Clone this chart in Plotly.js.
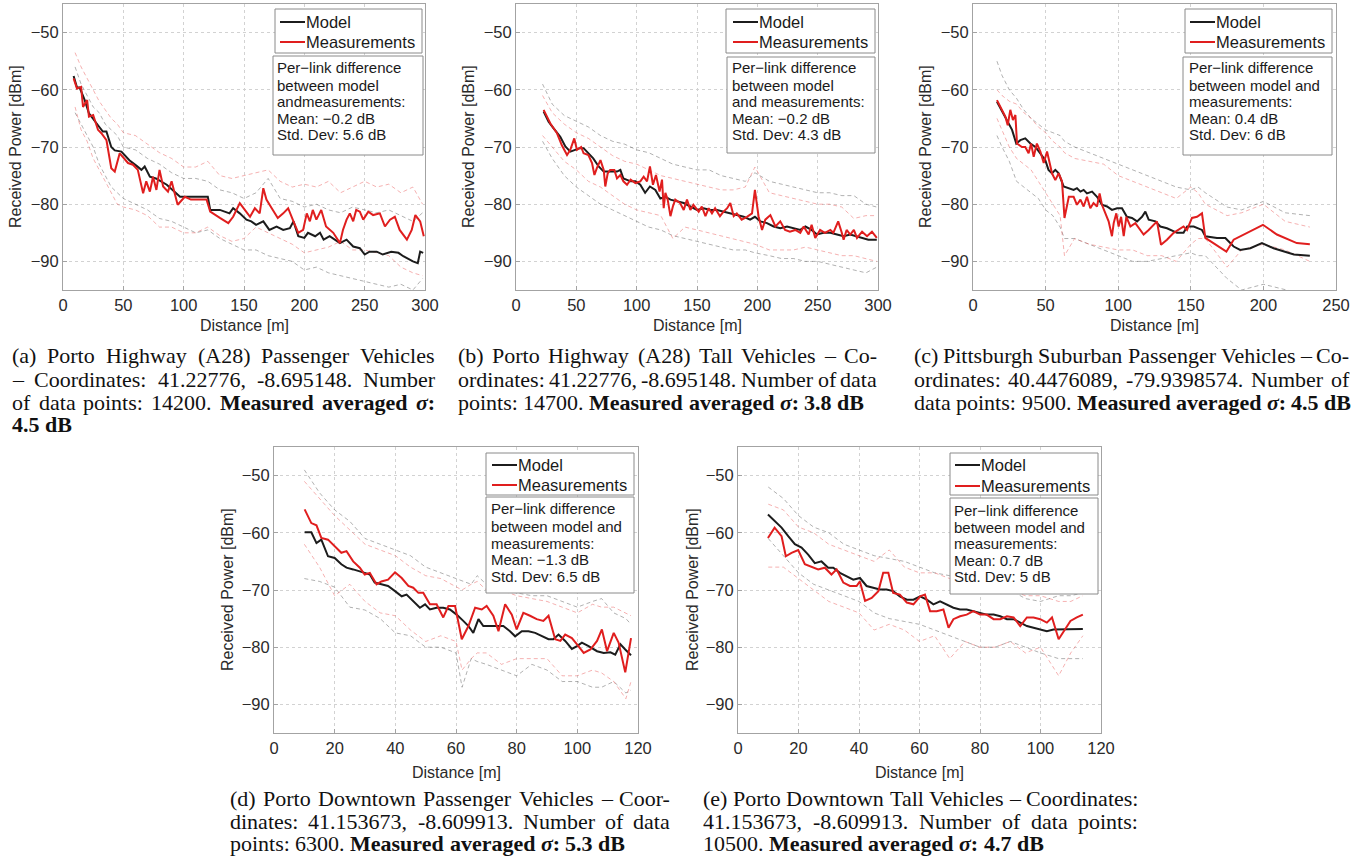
<!DOCTYPE html>
<html><head><meta charset="utf-8">
<script src="https://cdn.plot.ly/plotly-3.0.1.min.js"></script>
<style>html,body{margin:0;padding:0;background:#fff}#chart{width:1366px;height:858px}</style>
</head><body><div id="chart"></div>
<script>
// ---------------- DATA ----------------
// (a) Porto Highway Passenger
const aModelX=[8.8,11.6,13.8,18,21.5,25.4,29,33,36,40,42.9,48.4,55,61,65,67.7,72,77,86,97,102,106,113,120,122,130,138,141,146.5,152,156,160,166,171,177,182.5,188,191,195,200,203,209,213,216,221,229.5,235,240.5,246,250,254,260,265,272,278,282,290,294,296,298.5];
const aModelY=[-57.6,-59.6,-59.6,-61.8,-64.1,-65.3,-66.2,-67.3,-67.3,-70,-70.6,-70.8,-72.3,-73.3,-74,-73.4,-75.2,-75.5,-76.6,-78.7,-78.7,-78.7,-78.7,-78.7,-81,-81,-81.6,-80.7,-81.6,-82.7,-83,-83.6,-83,-84.5,-83.9,-84.5,-84.2,-83,-85.6,-85.9,-85,-85.6,-85,-86.2,-85.6,-86.8,-86.2,-87.4,-87.7,-88.8,-88.3,-88.3,-88.8,-88.3,-88.5,-89.1,-90,-90.3,-88.3,-88.5];
const aMeasX=[8.8,11.6,15,16.6,20,21.5,25,29,31.8,36,40,42.9,47,49.7,53.9,58,62,66.4,69,72,74.6,77.4,80,83,87,90,95,101,106,119,122,130,137,141,146.5,150.7,155,159,163,166,168.6,173,178,182.5,186.6,191,195,199,202,204.6,207,210,214,218,224,229.5,232,235,237.7,240.5,243,246,248.8,253,257,262.6,266.8,271,275,279,285,289,292,296,299];
const aMeasY=[-58,-59.8,-59.5,-63,-61.8,-64.7,-64.4,-67,-67.6,-68.8,-73.7,-74.3,-71.1,-71.7,-72.8,-73.1,-74,-78.1,-76,-77.8,-75.2,-77.5,-74,-76.9,-77.8,-76,-80.1,-78.7,-79.2,-79.2,-81.3,-82.4,-83.3,-82.2,-79.8,-81,-82.2,-80.7,-81.6,-77.2,-79.2,-80.7,-82.4,-81.6,-80.7,-83,-85,-84.5,-81.6,-83,-81,-82.7,-81,-83.9,-85,-86.8,-84.5,-82.7,-81.6,-83,-81,-81.3,-82.7,-81.3,-81.9,-81.6,-83.9,-82.7,-82.2,-84.5,-86.2,-84.5,-81.9,-83,-85.6];
const aBandX=[10,15,20,25,30,35,40,45,50,60,70,80,90,100,110,120,130,140,150,160,170,180,190,200,210,220,230,240,250,260,270,280,290,298];
const aMeasHi=[-53.5,-56,-58,-60,-62,-63.5,-65,-66,-67.5,-68,-69.5,-71,-72,-73.5,-73.5,-72.5,-75,-75.5,-75,-74.5,-74,-76,-77,-76.5,-77,-76,-78,-77,-76,-77,-76.5,-78,-77,-80];
const aModelHi=[-56,-59,-61,-63,-64,-66,-67,-68,-70,-70.5,-72,-73,-74.5,-75.5,-75.5,-76,-77.5,-78,-79,-78,-75.5,-79,-79.5,-80.5,-80,-81,-81.5,-80.5,-81,-81.5,-81,-82,-83,-81.5];
const aModelLo=[-64,-66,-68,-70,-73,-75,-77,-78,-79,-80,-81,-82.5,-83,-84,-85,-84.5,-86,-87,-88,-88,-89,-89.5,-90,-91.5,-91,-92,-92.5,-93,-93.5,-94,-94.5,-94,-95,-93];
const aMeasLo=[-63,-67,-69,-72,-74,-76,-78,-80,-80.5,-81,-82,-84,-84,-85,-85,-84,-85.5,-86.5,-86,-84,-85,-86,-87,-88.5,-88,-87.5,-86.5,-88,-88,-88.5,-89,-91,-92,-92.5];

// (b) Porto Highway Tall
const bModelX=[22.9,27,31,36.7,40.9,45,49,53,56,60,64,68.5,72.7,78,83.7,86.5,89,95,99,103,107,111,115.5,119.6,123.8,128,133,139,144.5,150,155.5,161,166.6,172,177.6,183,188.7,194,198,202.5,208,213.5,219,224.6,230,235.6,239.8,245,249.4,255,260.5,266,271.5,277,282.6,288,292,299];
const bModelY=[-63.8,-65.6,-66.7,-68.2,-69.9,-70.8,-70.5,-70.2,-70.2,-71.1,-72,-73.4,-74.3,-74.3,-74.3,-74,-75.5,-76,-76,-76.6,-78,-76.9,-77.5,-79,-78.7,-79.2,-79.5,-79.8,-80.4,-81,-80.7,-81,-81,-81.3,-81.6,-81.9,-82.2,-82.7,-82.2,-83,-83.3,-83.9,-84.2,-83.9,-84.2,-84.5,-83.9,-84.5,-85.3,-85,-85,-85.3,-85.6,-85.3,-85.6,-85.9,-86.2,-86.2];
const bMeasX=[22.9,28.5,34,38,42.3,45,48.3,50.5,54,56,60,63,65,67,70,72.7,74,76,78,81.5,83.7,86.5,89,92,95,99,103,105.8,108.6,111,113.5,116,119,121,122.4,123.8,125.7,128,130,132,136,139,141.7,144.5,147,151.4,154,157,159.7,162.4,165,169,172,175,177.6,180.4,183,187,191.4,195.6,198,201,203.9,206.6,210.8,215,219,223,227,231.5,235.6,238.4,242.5,245,248,252,256,260.5,263,267,270,271.5,274,277,280,282.6,286.8,290.9,295,299];
const bMeasY=[-63.5,-65.9,-67.6,-69.7,-71.4,-70.5,-68.5,-70.5,-70,-71.1,-71.4,-72.8,-74.9,-73.7,-72.3,-74,-76.9,-74.6,-74,-74,-75.5,-74.9,-76,-76.6,-75.7,-76.3,-76,-75.2,-76,-73.4,-76.6,-74.9,-77.8,-75.7,-80.7,-78,-79.2,-82.1,-80.4,-79.2,-79.8,-81,-79.2,-81,-80.1,-81.3,-80.4,-82.1,-80.7,-81.6,-80.7,-82.1,-81.3,-80.7,-79.8,-82.1,-81.6,-82.7,-82.2,-81.6,-77.5,-82.1,-84.5,-82.7,-81.9,-83.9,-83,-84.5,-84.8,-84.5,-85,-83.9,-85.3,-83.6,-85.9,-84.5,-85,-84.5,-85,-83,-85,-86.2,-84.5,-85.3,-84.5,-85.9,-84.8,-85.6,-84.8,-85.9];
const bBandX=[22,30,40,50,60,70,80,90,100,110,120,130,140,150,160,170,180,190,198,210,220,230,240,250,260,270,280,290,299];
const bModelHi=[-59,-62.5,-64.5,-65.5,-66.5,-68,-69,-69.5,-70.5,-71,-72,-73,-73.5,-74,-74,-75,-75.5,-76,-74.5,-76,-76.5,-77,-77.5,-78,-78,-78.5,-78.5,-80,-80.5];
const bMeasHi=[-61,-64,-66,-67.5,-68.5,-70,-71.5,-72.5,-73,-74,-75,-75.5,-76,-76.5,-77,-77.5,-77.5,-77,-73.5,-78,-78.5,-79,-79.5,-80,-80,-80.5,-82.5,-82,-82];
const bModelLo=[-69,-72,-75,-77,-78.5,-80,-81,-82,-83,-84,-84.5,-85.5,-86,-86.5,-87,-87.5,-88,-88,-88.5,-89,-89.5,-89.5,-90,-90,-90.5,-91,-91.5,-92,-91];
const bMeasLo=[-68,-70,-72.5,-74,-76,-77,-78.5,-80,-81,-81.5,-82,-86,-84,-84.5,-85,-85.5,-86,-86.5,-87,-88,-88,-88,-87.5,-88,-88.5,-89,-89,-89.5,-90];

// (c) Pittsburgh Suburban Passenger
const cModelX=[16.5,20,23.4,26.9,29.8,32.6,36,39.5,43,46.4,49.8,52,54.4,56.7,59,62.4,66,69.3,71.6,74,76.2,78.5,82,85.4,88.8,92.3,95.7,99.2,102.6,106,109.5,113,116.4,118.7,121,125.6,129,133.6,140.5,145,147.5,152,157.7,160,168,173.8,179.5,184,191,199,207,214,221,232];
const cModelY=[-62.1,-63.8,-65.3,-67,-69.4,-68.8,-68.5,-69.4,-70,-71.1,-72.3,-74,-74.6,-74,-74.6,-76.9,-77.2,-77.5,-77.2,-77.8,-77.5,-78.1,-77.8,-78.7,-80.1,-80.4,-81,-80.7,-80.7,-82.2,-82.4,-83,-82.2,-81.3,-82.7,-83,-83.9,-84.2,-85,-85,-83.9,-83.9,-84.5,-85.6,-85.9,-85.9,-87.4,-88,-87.7,-86.8,-87.7,-88.3,-88.8,-89];
const cMeasX=[16.5,20,22.3,23.9,25.7,27.5,29.2,30.3,33.7,36,38.3,40,41.8,44,46.4,48.7,51,52.8,54.4,56.7,59,61.3,63,66,69.3,71.6,74,76.2,78.5,80.8,83,85.4,87.2,88.8,91,93.4,95.7,96.9,98.7,100.3,102,103.8,105.6,108.4,111.8,115.2,117.5,121,124.4,126.7,129.5,133.6,138.2,141.6,145,147.4,150.8,154.3,157.7,160,165.7,174.5,179.5,188.7,199.7,209.3,223,232];
const cMeasY=[-61.8,-63.5,-64.7,-66.2,-63.5,-65.3,-64.4,-69.4,-70,-70,-71.1,-69.4,-71.7,-69.4,-70.8,-72.8,-70.8,-72.8,-74.6,-75.8,-74.6,-76,-82.4,-78.7,-78.7,-80.1,-79.2,-80.4,-78.7,-80.7,-79.8,-80.4,-78.1,-80.1,-81.6,-83,-85.6,-83.3,-81.6,-83.9,-82.2,-85.6,-82.2,-83.9,-83.3,-84.5,-85.3,-84.5,-83.6,-83,-87.1,-86.2,-85,-84.5,-83.9,-84.5,-82.4,-82.2,-81.6,-85.9,-86.8,-88.3,-86.2,-85,-83.6,-85.3,-86.8,-87];
const cBandX=[16.5,20,25,30,35,40,45,50,55,60,63,70,80,90,100,110,120,130,140,150,155,160,175,185,200,215,232];
const cModelHi=[-55,-57.5,-60,-61.5,-63.5,-65,-66,-67,-67.5,-68,-69,-70,-71,-72,-73,-74,-75,-76,-77,-77.5,-77,-78,-80.5,-81,-79.5,-81.5,-82];
const cMeasHi=[-60,-61,-62,-62.5,-64,-65,-66.5,-67.5,-69,-70,-71,-72,-72.5,-73,-75,-76,-77,-78,-79,-77,-78,-80,-82,-81.5,-80,-83,-84];
const cModelLo=[-68,-70,-72.5,-76,-77,-78,-79,-81,-82,-84,-86,-86,-87,-88,-89,-90,-90,-89.5,-89,-88.5,-89,-89,-93,-95,-94,-95,-96];
const cMeasLo=[-65,-67,-70,-72,-73,-74,-76,-78,-80,-82,-89,-86,-87,-87.5,-88,-88,-89,-89,-90,-87,-86,-86,-91,-88,-87,-88,-90];

// (d) Porto Downtown Passenger
const dModelX=[10.1,12.3,14,15.6,17.8,20,22.2,23.9,26.1,28.3,29.9,31.6,33.2,35.4,37.6,39.9,42.1,43.7,45.9,48.1,49.8,51.4,53.6,55.8,58,60.2,62.4,64.1,65.7,67.4,69,71.2,73.4,75.6,77.8,79.5,81.7,83.9,86.1,88.3,90.5,92.1,93.8,96,98.2,99.9,101.5,103.7,106.5,108.7,110.9,112.5,114.2,115.8,117.7];
const dModelY=[-59.9,-59.9,-61.8,-61.2,-64.1,-64.4,-65.5,-66.1,-66.4,-66.7,-67,-67.3,-68.7,-69,-69.3,-70.2,-71.1,-70.8,-71.9,-73.1,-72.5,-73.4,-73.1,-73.1,-73.4,-74.3,-75.4,-76.3,-77.5,-75.1,-76.3,-76.3,-76.3,-76.3,-77.2,-78.1,-77.2,-77.2,-77.5,-78.1,-78.6,-78.6,-77.8,-78.9,-80.3,-79.8,-79.2,-79.8,-80.7,-81,-80.9,-81.3,-79.5,-80.4,-81.4];
const dMeasX=[10.1,12.3,14,15.6,17.8,20,22.2,23.9,26.1,28.3,29.9,31.6,33.8,35.4,37.6,39.9,42.1,44.3,45.9,47.6,49.2,51.4,53.6,55.8,57.5,59.7,61.9,64.1,66.3,68.5,70.1,72.3,74,76.2,78.4,80,82.2,84.4,86.6,88.8,90.5,92.7,94.4,96,98.2,99.9,102.1,104.3,106.5,108.1,109.8,112,113.6,115.8,117.7];
const dMeasY=[-55.9,-58.3,-58.7,-60.9,-61.2,-62.3,-63.5,-63.2,-65,-66.1,-67.3,-67,-69,-68.5,-68.2,-66.9,-67.9,-69.3,-69.6,-70.5,-70.5,-72.5,-72.5,-74.8,-72.8,-72.8,-78.6,-76.3,-73.1,-73.4,-72.8,-74.5,-77.2,-72.5,-74.3,-76.9,-74,-74.5,-75.1,-75.4,-74.5,-78.6,-78.9,-77.8,-78.4,-79.5,-81,-80.4,-78.9,-76.9,-80.7,-77.5,-79.2,-84.4,-78.4];
const dBandX=[10,15,20,25,30,35,40,45,50,55,60,62,65,67,70,75,80,85,90,95,100,105,108,112,116,117.7];
const dModelHi=[-49,-53,-56,-58,-61,-62,-63,-64,-66,-67,-68,-68.5,-69,-67.5,-69,-70,-70.5,-71,-71,-72,-73,-72,-71.5,-74,-75,-76];
const dMeasHi=[-51,-54,-57,-59.5,-62,-63,-64,-66,-67.5,-68,-69.5,-70,-69,-68.5,-70,-70,-71,-71.5,-72,-73,-74,-72.5,-73,-73,-74,-74.5];
const dModelLo=[-68,-68.5,-69.5,-73,-73.5,-75,-77.5,-78,-80,-80,-81,-87,-82,-82.5,-83,-84,-85,-83,-84,-86,-86,-87,-87,-86,-88,-87.5];
const dMeasLo=[-62,-66,-71,-69,-72,-74,-74.5,-77,-79,-78,-79,-84,-82,-81,-81,-83,-82,-82,-82,-85,-85,-84,-84.5,-86,-89,-86];

// (e) Porto Downtown Tall
const eModelX=[9.9,12.1,14.4,16.6,18.8,21,23.2,25.4,27.6,29.8,31.5,33.7,35.9,38.1,40.3,42.5,44.7,46.9,49.1,51.3,53.5,55.8,58,60.2,62.4,64.6,66.8,69,71.2,73.4,75.6,77.8,80,82.2,84.5,86.7,88.9,91.1,93.3,95.5,97.7,99.9,102.1,104.3,106.5,108.7,111.5,114];
const eModelY=[-56.8,-58,-59.1,-60.6,-62,-62.6,-63.8,-65.3,-65,-66.1,-66.1,-67,-67.6,-68.2,-67.9,-69.3,-69.6,-69.9,-69.9,-70.2,-71.1,-71.7,-71.7,-71.1,-71.7,-72.5,-72,-72.5,-73.1,-73.4,-73.4,-73.7,-74,-74.3,-74.3,-74.6,-75.1,-75.1,-75.7,-76.3,-76.6,-76.9,-77.2,-76.9,-76.9,-76.9,-76.8,-76.8];
const eMeasX=[9.9,12.1,14.4,15.8,17.7,19.9,22.1,24.3,26.5,28.7,30.9,32.6,34.8,37,39.2,40.3,42,44.2,46.4,48,49.7,51.3,53.5,55.8,58,60.2,61.8,63.5,65.7,67.9,69.6,71.2,73.4,75.6,77.8,80,82.2,84.5,86.7,88.9,91.1,93.3,95.5,97.7,99.9,102.1,103.8,106,107.6,109.9,112,114];
const eMeasY=[-60.9,-59.1,-60.6,-64.1,-63.5,-63,-65.5,-65.9,-66.4,-66.1,-67.3,-66.4,-68.7,-69.3,-69.3,-68.5,-71.9,-71.4,-70.2,-67,-67,-70.5,-70.8,-72.2,-72.5,-71.1,-70.8,-73.7,-73.7,-73.4,-76.6,-75.1,-74.6,-74.3,-73.7,-74.3,-74.3,-75.1,-75.1,-74.6,-74.8,-76.3,-74.8,-74.8,-75.1,-75.7,-74.8,-78.6,-77.2,-75.4,-74.8,-74.3];
const eBandX=[10,15,20,25,30,35,40,45,50,55,60,65,70,75,80,85,90,95,100,106,110,114];
const eModelHi=[-52,-54,-57,-59,-60,-62,-63,-64,-64.5,-65,-66,-67,-67.5,-68,-69,-69.5,-70,-71.5,-72,-71,-71,-70.5];
const eMeasHi=[-55,-56,-59,-60,-62,-63,-64,-65,-63,-66,-67,-67,-68,-69,-69,-70,-70,-71,-71,-72,-72,-71];
const eModelLo=[-61,-64,-67,-69,-70,-71,-72,-74,-75,-75.5,-76,-77,-78,-79,-80,-80,-79,-80,-81,-82,-82,-82];
const eMeasLo=[-66,-66,-68,-70,-72,-73,-74,-77,-76,-77,-79,-78,-82,-79,-80,-80,-79,-81,-80,-85,-81,-78];

// Text
const legendNames=['Model','Measurements'];
const yTitle='Received Power [dBm]';
const xTitle='Distance [m]';
const boxTexts=[
 ['Per\u2212link difference','between model','andmeasurements:','Mean: \u22120.2 dB','Std. Dev: 5.6 dB'],
 ['Per\u2212link difference','between model','and measurements:','Mean: \u22120.2 dB','Std. Dev: 4.3 dB'],
 ['Per\u2212link difference','between model and','measurements:','Mean: 0.4 dB','Std. Dev: 6 dB'],
 ['Per\u2212link difference','between model and','measurements:','Mean: \u22121.3 dB','Std. Dev: 6.5 dB'],
 ['Per\u2212link difference','between model and','measurements:','Mean: 0.7 dB','Std. Dev: 5 dB']
];
const captions=[
 ['(a) Porto Highway (A28) Passenger Vehicles','\u2013 Coordinates: 41.22776, -8.695148. Number','of data points: 14200. *Measured averaged _\u03c3_:*','*4.5 dB*'],
 ['(b) Porto Highway (A28) Tall Vehicles \u2013 Co-','ordinates: 41.22776, -8.695148. Number of data','points: 14700. *Measured averaged _\u03c3_: 3.8 dB*'],
 ['(c) Pittsburgh Suburban Passenger Vehicles \u2013 Co-','ordinates: 40.4476089, -79.9398574. Number of','data points: 9500. *Measured averaged _\u03c3_: 4.5 dB*'],
 ['(d) Porto Downtown Passenger Vehicles \u2013 Coor-','dinates: 41.153673, -8.609913. Number of data','points: 6300. *Measured averaged _\u03c3_: 5.3 dB*'],
 ['(e) Porto Downtown Tall Vehicles \u2013 Coordinates:','41.153673, -8.609913. Number of data points:','10500. *Measured averaged _\u03c3_: 4.7 dB*']
];

// ---------------- LAYOUT (pixel geometry) ----------------
const W=1366,H=858;
const PX=x=>x/W, PY=y=>1-y/H;
const series=[
 {mx:aModelX,my:aModelY,sx:aMeasX,sy:aMeasY,bx:aBandX,mh:aModelHi,ml:aModelLo,sh:aMeasHi,sl:aMeasLo},
 {mx:bModelX,my:bModelY,sx:bMeasX,sy:bMeasY,bx:bBandX,mh:bModelHi,ml:bModelLo,sh:bMeasHi,sl:bMeasLo},
 {mx:cModelX,my:cModelY,sx:cMeasX,sy:cMeasY,bx:cBandX,mh:cModelHi,ml:cModelLo,sh:cMeasHi,sl:cMeasLo},
 {mx:dModelX,my:dModelY,sx:dMeasX,sy:dMeasY,bx:dBandX,mh:dModelHi,ml:dModelLo,sh:dMeasHi,sl:dMeasLo},
 {mx:eModelX,my:eModelY,sx:eMeasX,sy:eMeasY,bx:eBandX,mh:eModelHi,ml:eModelLo,sh:eMeasHi,sl:eMeasLo}
];
const geo=[
 {l:63,r:425,t:4,b:290,xmax:300,dt:50,yt:15,xt:325,leg:[275,422,9,53],rows:[22,42],lx:280,box:[273,423,56,155],tx:277,ty:[68,85,102,118,134],cap:[12,435,[356,379,402,425]]},
 {l:516,r:878,t:4,b:290,xmax:300,dt:50,yt:468,xt:325,leg:[726,875,9,53],rows:[22,42],lx:733,box:[727,875,57,153],tx:732,ty:[68,85,102,118,135],cap:[458,877,[356,379,402]]},
 {l:973,r:1336,t:4,b:290,xmax:250,dt:50,yt:925,xt:325,leg:[1185,1332,9,53],rows:[22,42],lx:1190,box:[1183,1332,57,155],tx:1189,ty:[68,85,102,118,135],cap:[914,1349,[356,379,402]]},
 {l:274,r:638,t:447,b:733,xmax:120,dt:20,yt:227,xt:772,leg:[486,634,453,495],rows:[465,485],lx:492,box:[486,634,497,593],tx:491,ty:[509,526,543,559,576],cap:[230,670,[798,821,843]]},
 {l:738,r:1101,t:447,b:733,xmax:120,dt:20,yt:692,xt:772,leg:[950,1098,453,495],rows:[465,486],lx:955,box:[950,1098,498,594],tx:954,ty:[510,527,543,560,576],cap:[703,1138,[798,821,843]]}
];

const BLACK='#1c1c1c', RED='#e01e1e', GREY='rgba(70,70,70,0.42)', PINK='rgba(232,70,70,0.42)';
const SANS='"Liberation Sans", Arial, Helvetica, sans-serif';
const SERIF='"Liberation Serif", "Times New Roman", Times, serif';
const traces=[], shapes=[], ann=[];
const layout={width:W,height:H,margin:{l:0,r:0,t:0,b:0},paper_bgcolor:'#fff',plot_bgcolor:'#fff',showlegend:false,font:{family:SANS,color:'#262626'}};

series.forEach((s,k)=>{
  const g=geo[k], n=k+1, sfx=n>1?String(n):'';
  const xa='x'+sfx, ya='y'+sfx;
  const dl=(x,y,c)=>({type:'scatter',mode:'lines',x,y,xaxis:xa,yaxis:ya,line:{color:c,width:1,dash:'4px,3px'},hoverinfo:'skip'});
  traces.push(dl(s.bx,s.mh,GREY),dl(s.bx,s.ml,GREY),dl(s.bx,s.sh,PINK),dl(s.bx,s.sl,PINK));
  traces.push({type:'scatter',mode:'lines',x:s.mx,y:s.my,xaxis:xa,yaxis:ya,name:legendNames[0],line:{color:BLACK,width:2}});
  traces.push({type:'scatter',mode:'lines',x:s.sx,y:s.sy,xaxis:xa,yaxis:ya,name:legendNames[1],line:{color:RED,width:2}});
  const base={showline:true,mirror:true,linecolor:'#a3a3a3',linewidth:1,showgrid:true,gridcolor:'#d2d2d2',griddash:'dot',gridwidth:1,zeroline:false,ticks:'inside',ticklen:4,tickcolor:'#a3a3a3',tickfont:{family:SANS,size:16.5,color:'#2a2a2a'},fixedrange:true};
  layout['xaxis'+sfx]=Object.assign({},base,{domain:[PX(g.l),PX(g.r)],range:[0,g.xmax],tick0:0,dtick:g.dt,anchor:ya});
  layout['yaxis'+sfx]=Object.assign({},base,{domain:[PY(g.b),PY(g.t)],range:[-95,-45],tick0:-90,dtick:10,anchor:xa});
  // axis titles
  ann.push({xref:'paper',yref:'paper',x:PX(g.yt),y:PY((g.t+g.b)/2),text:yTitle,textangle:-90,showarrow:false,xanchor:'center',yanchor:'middle',font:{family:SANS,size:16,color:'#2a2a2a'}});
  ann.push({xref:'paper',yref:'paper',x:PX((g.l+g.r)/2),y:PY(g.xt),text:xTitle,showarrow:false,xanchor:'center',yanchor:'middle',font:{family:SANS,size:16,color:'#2a2a2a'}});
  // legend box
  const [L,R,T,B]=g.leg;
  shapes.push({type:'rect',xref:'paper',yref:'paper',x0:PX(L),x1:PX(R),y0:PY(B),y1:PY(T),line:{color:'#8a8a8a',width:1},fillcolor:'#fff'});
  [BLACK,RED].forEach((c,i)=>{
    shapes.push({type:'line',xref:'paper',yref:'paper',x0:PX(g.lx),x1:PX(g.lx+25),y0:PY(g.rows[i]),y1:PY(g.rows[i]),line:{color:c,width:2}});
    ann.push({xref:'paper',yref:'paper',x:PX(g.lx+26),y:PY(g.rows[i]),text:legendNames[i],showarrow:false,xanchor:'left',yanchor:'middle',borderpad:0,borderwidth:0,font:{family:SANS,size:16.5,color:'#1a1a1a'}});
  });
  // text box
  const [bl,br,bt,bb]=g.box;
  shapes.push({type:'rect',xref:'paper',yref:'paper',x0:PX(bl),x1:PX(br),y0:PY(bb),y1:PY(bt),line:{color:'#8a8a8a',width:1},fillcolor:'#fff'});
  boxTexts[k].forEach((t,i)=>{
    ann.push({xref:'paper',yref:'paper',x:PX(g.tx),y:PY(g.ty[i]),text:t,showarrow:false,xanchor:'left',yanchor:'middle',borderpad:0,borderwidth:0,font:{family:SANS,size:15,color:'#1a1a1a'}});
  });
});

// ---------------- captions (justified text) ----------------
const cv=document.createElement('canvas').getContext('2d');
const CAPSIZE=22;
function parseWords(s){
  const words=[];let cur=[];let b=false,it=false,buf='';
  const flush=()=>{if(buf){cur.push({t:buf,b,i:it});buf='';}};
  for(const ch of s){
    if(ch==='*'){flush();b=!b;}
    else if(ch==='_'){flush();it=!it;}
    else if(ch===' '){flush();if(cur.length)words.push(cur);cur=[];}
    else buf+=ch;
  }
  flush();if(cur.length)words.push(cur);
  return words;
}
function runW(r){cv.font=(r.i?'italic ':'')+(r.b?'bold ':'')+CAPSIZE+'px '+SERIF;return cv.measureText(r.t).width;}
function runH(r){let h=r.t.replace(/&/g,'&amp;').replace(/</g,'&lt;');if(r.i)h='<i>'+h+'</i>';if(r.b)h='<b>'+h+'</b>';return h;}
captions.forEach((lines,k)=>{
  const [x0,x1,ys]=geo[k].cap;
  lines.forEach((ln,li)=>{
    const words=parseWords(ln);
    const ws=words.map(w=>w.reduce((a,r)=>a+runW(r),0));
    const total=ws.reduce((a,b)=>a+b,0);
    const justify=li<lines.length-1 && words.length>1;
    cv.font=CAPSIZE+'px '+SERIF;
    const gap=justify?(x1-x0-total)/(words.length-1):cv.measureText(' ').width;
    let x=x0;
    words.forEach((w,wi)=>{
      ann.push({xref:'paper',yref:'paper',x:PX(x),y:PY(ys[li]),text:w.map(runH).join(''),showarrow:false,xanchor:'left',yanchor:'middle',borderpad:0,borderwidth:0,font:{family:SERIF,size:CAPSIZE,color:'#111'}});
      x+=ws[wi]+gap;
    });
  });
});

layout.shapes=shapes;
layout.annotations=ann;
Plotly.newPlot('chart',traces,layout,{staticPlot:true,displayModeBar:false});
</script></body></html>
